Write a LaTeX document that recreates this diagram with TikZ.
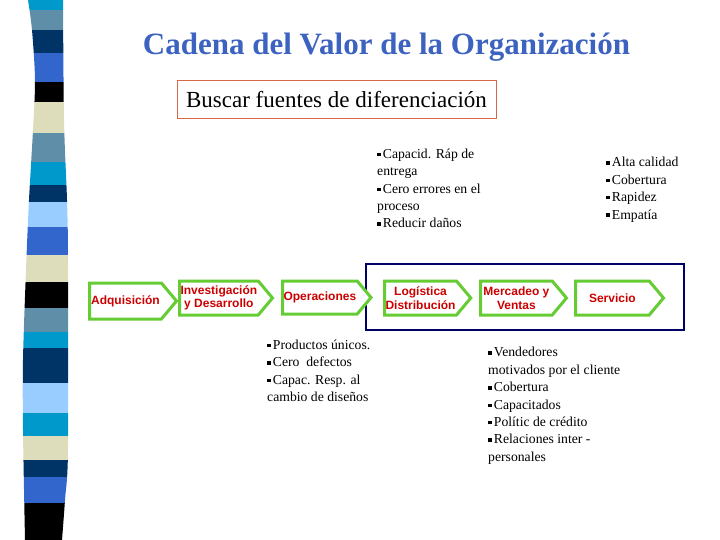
\documentclass[tikz,border=0pt]{standalone}
\usepackage{fontspec}
\setmainfont{Liberation Serif}
\newfontfamily\arialfont{Liberation Sans}
\usetikzlibrary{shapes.symbols}

\definecolor{titleblue}{RGB}{61,99,192}
\definecolor{boxorange}{RGB}{214,104,72}
\definecolor{chevgreen}{RGB}{102,204,51}
\definecolor{chevred}{RGB}{204,0,0}
\definecolor{framenavy}{RGB}{0,0,102}
\definecolor{sCyan}{RGB}{0,153,204}
\definecolor{sGray}{RGB}{95,143,168}
\definecolor{sNavy}{RGB}{0,51,102}
\definecolor{sRoyal}{RGB}{51,102,204}
\definecolor{sBeige}{RGB}{221,221,187}
\definecolor{sLight}{RGB}{153,204,255}

\newcommand{\bul}{\rule[0.35ex]{3.3pt}{3.3pt}\hspace{2.4pt}}

\begin{document}
\begin{tikzpicture}[x=1pt, y=-1pt,
  chev/.style={signal, signal to=east, signal pointer angle=100, draw=chevgreen,
    line width=3pt, fill=white, text=chevred, align=center, inner sep=1pt,
    anchor=west, font=\arialfont\bfseries\fontsize{12}{13.5}\selectfont},
  bullets/.style={align=left, inner sep=0pt, anchor=base west,
    font=\fontsize{13.7}{17.4}\selectfont}]
  \useasboundingbox (0,0) rectangle (720,540);
  % stripe at the left
  \begin{scope}
    \clip plot[smooth] coordinates {(28,0) (32,30) (35,80) (33,130) (29,200) (26,270) (23,360) (23,430) (25,540)}
      -- plot[smooth] coordinates {(62,540) (65,500) (68,450) (68,260) (67,200) (64,120) (63,0)} -- cycle;
    \foreach \ya/\yb/\c in {0/10/sCyan, 10/30/sGray, 30/53/sNavy, 53/82/sRoyal, 82/102/black,
        102/133/sBeige, 133/162/sGray, 162/185/sCyan, 185/202/sNavy, 202/227/sLight,
        227/255/sRoyal, 255/282/sBeige, 282/308/black, 308/332/sGray, 332/348/sCyan,
        348/383/sNavy, 383/413/sLight, 413/436/sCyan, 436/460/sBeige, 460/477/sNavy,
        477/503/sRoyal, 503/540/black}
      \fill[\c] (0,\ya) rectangle (100,\yb);
  \end{scope}

  \node[anchor=base, text=titleblue, font=\bfseries\fontsize{31}{36}\selectfont] (title) at (386.5,55)
    {Cadena del Valor de la Organización};
  \node[draw=boxorange, line width=1pt, minimum width=319pt, minimum height=38pt,
    font=\fontsize{23}{27}\selectfont] (buscar) at (336.5,100) {Buscar fuentes de diferenciación};

  \node[draw=framenavy, line width=1.2pt, minimum width=318pt, minimum height=66pt, inner sep=0pt] (frame) at (525,297) {};

  \node[chev, minimum width=87pt, minimum height=36pt] (adq) at (88,301) {Adquisición};
  \node[chev, minimum width=93pt, minimum height=34pt] (inv) at (178,298) {Investigación\\y Desarrollo};
  \node[chev, minimum width=85pt, minimum height=33pt] (ope) at (281,297.5) {Operaciones};
  \node[chev, minimum width=86pt, minimum height=34pt] (log) at (383,298) {Logística\\Distribución};
  \node[chev, minimum width=86pt, minimum height=34pt] (mer) at (479,298) {Mercadeo y\\Ventas};
  \node[chev, minimum width=88pt, minimum height=34pt] (ser) at (574,298) {Servicio};

  % base of a many-line node is the base of its last line
  \node[bullets] (logtxt) at (377,227.9) {\bul Capacid. Ráp de\\entrega\\\bul Cero errores en el\\proceso\\\bul Reducir daños};
  \node[bullets] (sertxt) at (606,219) {\bul Alta calidad\\\bul Cobertura\\\bul Rapidez\\\bul Empatía};
  \node[bullets] (opetxt) at (267,401.5) {\bul Productos únicos.\\\bul Cero\ \ defectos\\\bul Capac. Resp. al\\cambio de diseños};
  \node[bullets] (mertxt) at (488,461.3) {\bul Vendedores\\motivados por el cliente\\\bul Cobertura\\\bul Capacitados\\\bul Polític de crédito\\\bul Relaciones inter -\\personales};
\end{tikzpicture}
\end{document}
